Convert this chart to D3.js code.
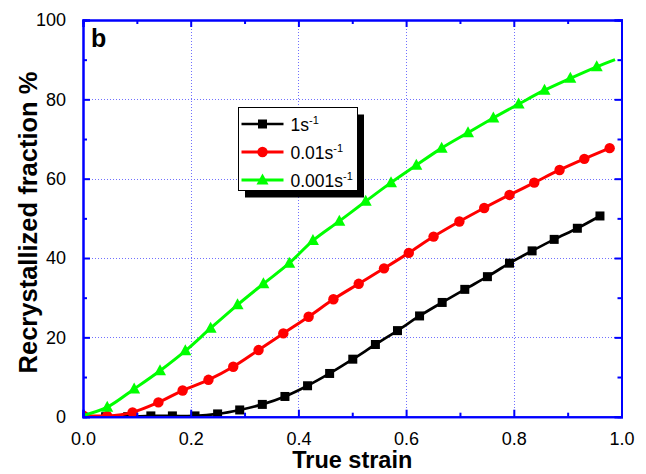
<!DOCTYPE html>
<html>
<head>
<meta charset="utf-8">
<script src="https://cdn.jsdelivr.net/npm/d3@7"></script>
<style>
  body { margin: 0; background: #fff; }
  text { font-family: Arial, "Liberation Sans", sans-serif; }
</style>
</head>
<body>
<div id="graph-container"></div>
<script>
// Data
var blackStrain = [0, 0.042, 0.083, 0.126, 0.166, 0.208, 0.250, 0.291, 0.333, 0.375, 0.417, 0.458,
  0.501, 0.543, 0.584, 0.625, 0.667, 0.709, 0.751, 0.792, 0.834, 0.875, 0.918, 0.960];
var blackFraction = [0, 0, 0, 0.2, 0.2, 0.2, 0.7, 1.7, 3.1, 5.1, 7.8, 10.9,
  14.5, 18.2, 21.7, 25.4, 28.8, 32.1, 35.3, 38.7, 41.8, 44.7, 47.5, 50.6];

var redStrain = [0, 0.045, 0.092, 0.140, 0.185, 0.233, 0.279, 0.326, 0.372, 0.419, 0.465,
  0.512, 0.559, 0.605, 0.651, 0.699, 0.745, 0.792, 0.838, 0.885, 0.931, 0.978];
var redFraction = [0.3, 0.2, 1.1, 3.6, 6.6, 9.3, 12.6, 16.8, 21.0, 25.2, 29.6,
  33.5, 37.4, 41.3, 45.4, 49.2, 52.6, 55.9, 59.0, 62.2, 65.0, 67.7];

// last green point carries the line only, no marker
var greenStrain = [0, 0.045, 0.095, 0.143, 0.190, 0.237, 0.287, 0.335, 0.383, 0.427, 0.476,
  0.525, 0.572, 0.619, 0.666, 0.715, 0.762, 0.809, 0.857, 0.905, 0.954, 0.988];
var greenFraction = [0.3, 2.4, 7.0, 11.6, 16.6, 22.3, 28.2, 33.5, 38.7, 44.4, 49.3,
  54.3, 59.0, 63.4, 67.7, 71.6, 75.3, 78.8, 82.3, 85.3, 88.2, 90.0];
var greenMarkerCount = 21;

var legendLabels = ["1s", "0.01s", "0.001s"];
var xTicks = [0, 0.2, 0.4, 0.6, 0.8, 1.0];
var yTicks = [0, 20, 40, 60, 80, 100];

var svgWidth = 646;
var svgHeight = 474;

var svg = d3.select("#graph-container")
  .append("svg")
  .attr("width", svgWidth)
  .attr("height", svgHeight);

// plot frame position
var plotLeft = 83, plotRight = 621.5, plotTop = 20, plotBottom = 416.7;

var xScale = d3.scaleLinear().domain([0, 1]).range([plotLeft, plotRight]);
var yScale = d3.scaleLinear().domain([0, 100]).range([plotBottom, plotTop]);

var axisBlue = "#0000ff";

// dotted grid at the major ticks (snapped to half pixels so the dots stay crisp)
function snap(v) { return Math.round(v) + 0.5; }
var grid = svg.append("g");
grid.selectAll(".vg")
  .data(xTicks.slice(1, -1))
  .enter()
  .append("line")
  .attr("x1", function (d) { return snap(xScale(d)); })
  .attr("x2", function (d) { return snap(xScale(d)); })
  .attr("y1", plotTop)
  .attr("y2", plotBottom)
  .attr("stroke", "#7070ff")
  .attr("stroke-width", 1)
  .attr("stroke-dasharray", "1,2");
grid.selectAll(".hg")
  .data(yTicks.slice(1, -1))
  .enter()
  .append("line")
  .attr("y1", function (d) { return snap(yScale(d)); })
  .attr("y2", function (d) { return snap(yScale(d)); })
  .attr("x1", plotLeft)
  .attr("x2", plotRight)
  .attr("stroke", "#7070ff")
  .attr("stroke-width", 1)
  .attr("stroke-dasharray", "1,2");

// clip region for the data
svg.append("clipPath")
  .attr("id", "plot-clip")
  .append("rect")
  .attr("x", plotLeft)
  .attr("y", plotTop)
  .attr("width", plotRight - plotLeft)
  .attr("height", plotBottom - plotTop);

var plot = svg.append("g").attr("clip-path", "url(#plot-clip)");

var line = d3.line()
  .x(function (d) { return xScale(d[0]); })
  .y(function (d) { return yScale(d[1]); })
  .curve(d3.curveCatmullRom.alpha(0.5));

function drawMarker(g, shape, color, cx, cy) {
  if (shape === "square") {
    g.append("rect")
      .attr("x", cx - 4.5).attr("y", cy - 4.5)
      .attr("width", 9).attr("height", 9)
      .attr("fill", color);
  } else if (shape === "circle") {
    g.append("circle")
      .attr("cx", cx).attr("cy", cy).attr("r", 5.2)
      .attr("fill", color);
  } else {
    g.append("path")
      .attr("d", "M" + cx + "," + (cy - 6.5) + "L" + (cx + 6) + "," + (cy + 4.5) + "L" + (cx - 6) + "," + (cy + 4.5) + "Z")
      .attr("fill", color);
  }
}

var series = [
  { strain: blackStrain, frac: blackFraction, color: "#000000", shape: "square", width: 2.7, markers: blackStrain.length },
  { strain: redStrain, frac: redFraction, color: "#ff0000", shape: "circle", width: 3, markers: redStrain.length },
  { strain: greenStrain, frac: greenFraction, color: "#00ff00", shape: "triangle", width: 3, markers: greenMarkerCount }
];

series.forEach(function (s) {
  var pts = s.strain.map(function (x, i) { return [x, s.frac[i]]; });
  plot.append("path")
    .attr("d", line(pts))
    .attr("fill", "none")
    .attr("stroke", s.color)
    .attr("stroke-width", s.width);
  var mg = plot.append("g");
  pts.slice(0, s.markers).forEach(function (p) {
    drawMarker(mg, s.shape, s.color, xScale(p[0]), yScale(p[1]));
  });
});

// axes: bottom/left with labels, top/right mirrored ticks only
var xMinor = [0.1, 0.3, 0.5, 0.7, 0.9];
var yMinor = [10, 30, 50, 70, 90];

var bottomAxis = d3.axisBottom(xScale).tickValues(xTicks).tickFormat(d3.format(".1f")).tickSize(-7).tickPadding(16);
var leftAxis = d3.axisLeft(yScale).tickValues(yTicks).tickFormat(d3.format("d")).tickSize(-7).tickPadding(17);

svg.append("g").attr("transform", "translate(0," + plotBottom + ")").call(bottomAxis);
svg.append("g").attr("transform", "translate(" + plotLeft + ",0)").call(leftAxis);
svg.append("g").attr("transform", "translate(0," + plotTop + ")")
  .call(d3.axisTop(xScale).tickValues(xTicks).tickFormat("").tickSize(-7));
svg.append("g").attr("transform", "translate(" + plotRight + ",0)")
  .call(d3.axisRight(yScale).tickValues(yTicks).tickFormat("").tickSize(-7));

// minor ticks
svg.append("g").attr("transform", "translate(0," + plotBottom + ")")
  .call(d3.axisBottom(xScale).tickValues(xMinor).tickFormat("").tickSize(-4));
svg.append("g").attr("transform", "translate(0," + plotTop + ")")
  .call(d3.axisTop(xScale).tickValues(xMinor).tickFormat("").tickSize(-4));
svg.append("g").attr("transform", "translate(" + plotLeft + ",0)")
  .call(d3.axisLeft(yScale).tickValues(yMinor).tickFormat("").tickSize(-4));
svg.append("g").attr("transform", "translate(" + plotRight + ",0)")
  .call(d3.axisRight(yScale).tickValues(yMinor).tickFormat("").tickSize(-4));

svg.selectAll(".domain").attr("stroke", axisBlue).attr("stroke-width", 2);
svg.selectAll(".tick line").attr("stroke", axisBlue).attr("stroke-width", 2);
svg.selectAll(".tick text")
  .attr("fill", "#000")
  .style("font-size", "18px")
  .style("font-family", "Arial, 'Liberation Sans', sans-serif");

// axis titles
svg.append("text")
  .attr("x", (plotLeft + plotRight) / 2)
  .attr("y", 468)
  .attr("text-anchor", "middle")
  .style("font-size", "23.5px")
  .style("font-weight", "bold")
  .text("True strain");

svg.append("text")
  .attr("transform", "translate(36.5," + 222.5 + ") rotate(-90)")
  .attr("text-anchor", "middle")
  .style("font-size", "25.5px")
  .style("font-weight", "bold")
  .text("Recrystallized fraction %");

// panel letter
svg.append("text")
  .attr("x", 91)
  .attr("y", 46.5)
  .style("font-size", "25px")
  .style("font-weight", "bold")
  .text("b");

// legend with drop shadow
var legend = svg.append("g");
var lx = 238.5, ly = 107.5, lw = 119, lh = 83;
legend.append("rect")
  .attr("x", lx + 6.5).attr("y", ly + 7)
  .attr("width", lw).attr("height", lh)
  .attr("fill", "#000");
legend.append("rect")
  .attr("x", lx).attr("y", ly)
  .attr("width", lw).attr("height", lh)
  .attr("fill", "#fff")
  .attr("stroke", "#000")
  .attr("stroke-width", 1);

series.forEach(function (s, i) {
  var cy = 124 + i * 28;
  legend.append("line")
    .attr("x1", 241.5).attr("x2", 283.5)
    .attr("y1", cy).attr("y2", cy)
    .attr("stroke", s.color)
    .attr("stroke-width", s.width);
  drawMarker(legend, s.shape, s.color, 262.5, cy);
  var t = legend.append("text")
    .attr("x", 290.5)
    .attr("y", cy + 6.5)
    .style("font-size", "17.5px");
  t.append("tspan").text(legendLabels[i]);
  t.append("tspan")
    .attr("dy", -7)
    .style("font-size", "11px")
    .text("-1");
});
</script>
</body>
</html>
